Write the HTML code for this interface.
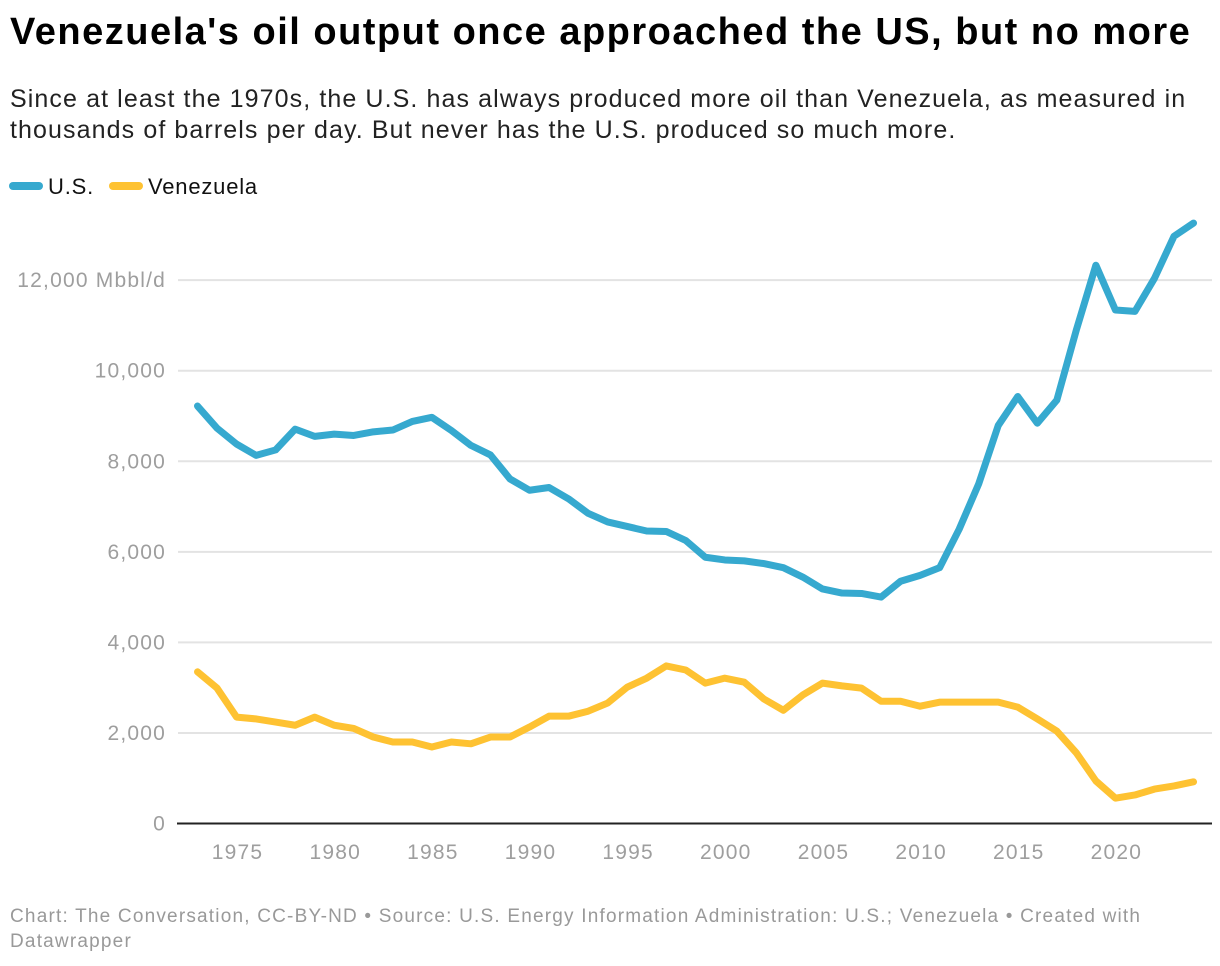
<!DOCTYPE html>
<html><head><meta charset="utf-8"><style>
body{margin:0;background:#fff;font-family:"Liberation Sans",sans-serif;}
#w{position:relative;width:1220px;height:966px;overflow:hidden;}
h1{position:absolute;left:10px;top:11px;margin:0;font-size:38px;font-weight:bold;color:#000;letter-spacing:1.5px;white-space:nowrap;}
.sub{position:absolute;left:10px;top:84px;font-size:25px;line-height:31px;color:#222;width:1210px;letter-spacing:1.1px;white-space:nowrap;}
.foot{position:absolute;left:10px;top:904px;font-size:19px;line-height:25px;color:#999;width:1160px;letter-spacing:1.2px;white-space:nowrap;}
svg{position:absolute;left:0;top:0;}
</style></head><body>
<div id="w">
<h1>Venezuela's oil output once approached the US, but no more</h1>
<div class="sub">Since at least the 1970s, the U.S. has always produced more oil than Venezuela, as measured in<br>thousands of barrels per day. But never has the U.S. produced so much more.</div>
<svg id="c" width="1220" height="966"></svg>
<div class="foot">Chart: The Conversation, CC-BY-ND • Source: U.S. Energy Information Administration: U.S.; Venezuela • Created with<br>Datawrapper</div>
</div>
<script>
const years=[];for(let y=1973;y<=2024;y++)years.push(y);
const usValues=[9.22,8.73,8.38,8.13,8.25,8.71,8.55,8.60,8.57,8.65,8.69,8.88,8.97,8.68,8.35,8.14,7.61,7.36,7.42,7.17,6.85,6.66,6.56,6.46,6.45,6.25,5.88,5.82,5.80,5.74,5.65,5.44,5.18,5.09,5.08,5.00,5.35,5.48,5.65,6.50,7.50,8.79,9.43,8.84,9.35,10.9,12.33,11.34,11.31,12.04,12.97,13.26].map(v=>v*1000);
const venValues=[3.35,2.99,2.35,2.31,2.24,2.17,2.35,2.17,2.10,1.91,1.80,1.80,1.69,1.80,1.76,1.91,1.91,2.13,2.37,2.37,2.48,2.66,3.01,3.21,3.48,3.39,3.10,3.21,3.12,2.75,2.50,2.84,3.10,3.04,2.99,2.70,2.70,2.59,2.68,2.68,2.68,2.68,2.57,2.31,2.04,1.56,0.94,0.56,0.63,0.76,0.83,0.92].map(v=>v*1000);
const yTicks=[0,2000,4000,6000,8000,10000,12000];
const yTickLabels=["0","2,000","4,000","6,000","8,000","10,000","12,000 Mbbl/d"];
const xTicks=[1975,1980,1985,1990,1995,2000,2005,2010,2015,2020];
const svg=document.getElementById('c');const NS='http://www.w3.org/2000/svg';
const X=y=>197.5+(y-1973)*19.53;
const Y=v=>823.5-v*0.04528;
function mk(t,a){const e=document.createElementNS(NS,t);for(const k in a)e.setAttribute(k,a[k]);svg.appendChild(e);return e;}
yTicks.forEach((t,i)=>{
 if(i>0){const g=mk('line',{x1:178,x2:1212,y1:Y(t),y2:Y(t),stroke:'#e3e3e3','stroke-width':2});
 
 }
 const l=mk('text',{x:166,y:Y(t)+7,'text-anchor':'end','font-size':21,fill:'#9e9e9e','font-family':'Liberation Sans','letter-spacing':1.2});
 l.textContent=yTickLabels[i];
 
 
});
const ax=mk('line',{x1:177,x2:1212,y1:823.5,y2:823.5,stroke:'#222','stroke-width':2});


xTicks.forEach(t=>{
 const l=mk('text',{x:X(t)+1,y:859,'text-anchor':'middle','font-size':21,fill:'#9e9e9e','font-family':'Liberation Sans','letter-spacing':1.2});
 l.textContent=t;
 
 
});
function line(vals,col,name){
 const p=mk('polyline',{points:vals.map((v,i)=>X(years[i])+','+Y(v)).join(' '),fill:'none',stroke:col,'stroke-width':7,'stroke-linejoin':'round','stroke-linecap':'round'});
 
 
}
line(venValues,'#fec232','venezuela-line');
line(usValues,'#36a9cf','us-line');
const legend=[["U.S.",'#36a9cf',13,48],["Venezuela",'#fec232',113,148]];
legend.forEach(([n,c,x,tx])=>{
 const s=mk('line',{x1:x,x2:x+26,y1:186,y2:186,stroke:c,'stroke-width':8,'stroke-linecap':'round'});
 
 
 const t=mk('text',{x:tx,y:194,'font-size':22,fill:'#111','font-family':'Liberation Sans','letter-spacing':0.8});
 t.textContent=n;
 
 
});
</script>
</body></html>
